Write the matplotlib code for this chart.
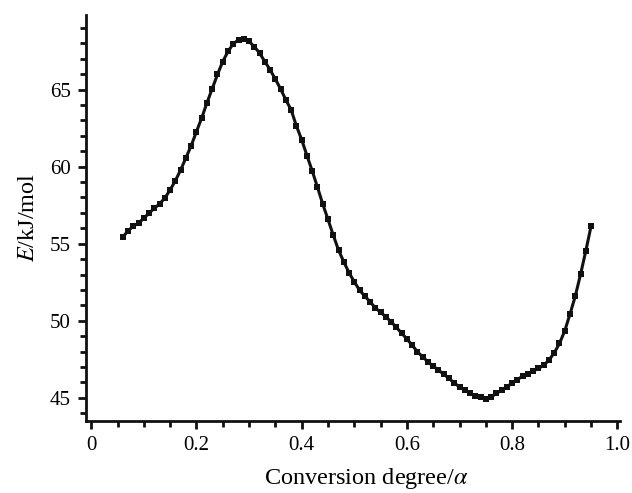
#!/usr/bin/env python3
"""Activation energy E versus conversion degree alpha."""

import numpy as np
import matplotlib
matplotlib.use("Agg")
import matplotlib.pyplot as plt
from matplotlib.ticker import MultipleLocator

# conversion degree (0.06 .. 0.95, step 0.01)
alpha = np.round(np.arange(6, 96) / 100.0, 2)

# activation energy, kJ/mol
energy = [
    55.43, 55.84, 56.13, 56.34, 56.65, 56.99, 57.30, 57.58, 57.97, 58.49,   # 0.06-0.15
    59.09, 59.79, 60.57, 61.36, 62.27, 63.16, 64.14, 65.06, 65.98, 66.82,   # 0.16-0.25
    67.47, 67.97, 68.23, 68.29, 68.12, 67.79, 67.36, 66.82, 66.28, 65.68,   # 0.26-0.35
    65.03, 64.33, 63.68, 62.64, 61.75, 60.72, 59.73, 58.67, 57.58, 56.58,   # 0.36-0.45
    55.56, 54.59, 53.83, 53.12, 52.53, 51.99, 51.60, 51.23, 50.84, 50.55,   # 0.46-0.55
    50.26, 49.94, 49.57, 49.20, 48.82, 48.42, 47.99, 47.66, 47.34, 47.06,   # 0.56-0.65
    46.80, 46.54, 46.26, 45.97, 45.71, 45.50, 45.29, 45.13, 45.03, 44.96,   # 0.66-0.75
    45.06, 45.29, 45.50, 45.71, 45.97, 46.19, 46.41, 46.58, 46.75, 46.91,   # 0.76-0.85
    47.12, 47.45, 47.92, 48.53, 49.35, 50.44, 51.60, 53.01, 54.53, 56.14,   # 0.86-0.95
]

x_ticks = [0, 0.2, 0.4, 0.6, 0.8, 1.0]
x_tick_labels = ["0", "0.2", "0.4", "0.6", "0.8", "1.0"]
y_ticks = [45, 50, 55, 60, 65]

plt.rcParams["font.family"] = ["Liberation Serif", "DejaVu Serif"]
plt.rcParams["mathtext.fontset"] = "stix"

fig = plt.figure(figsize=(6.32, 4.93), dpi=100)
ax = fig.add_axes([0.136, 0.146, 0.845, 0.824])

ax.plot(alpha, energy, color="#111111", linewidth=2.2,
        marker="s", markersize=4.2, markeredgewidth=0)

ax.set_xlim(-0.01, 1.005)
ax.set_ylim(43.5, 69.85)

ax.set_xticks(x_ticks)
ax.set_xticklabels(x_tick_labels)
ax.set_yticks(y_ticks)
ax.xaxis.set_minor_locator(MultipleLocator(0.05))
ax.yaxis.set_minor_locator(MultipleLocator(1))

ax.tick_params(which="major", direction="out", length=6, width=2,
               labelsize=15, color="#111111", pad=5)
ax.tick_params(which="minor", direction="out", length=4, width=2,
               color="#111111")

for side in ["top", "right"]:
    ax.spines[side].set_visible(False)
for side in ["left", "bottom"]:
    ax.spines[side].set_linewidth(2)
    ax.spines[side].set_color("#111111")

ax.set_xlabel(r"Conversion degree/$\alpha$", fontsize=17.5, labelpad=8, x=0.525)
ax.set_ylabel(r"$E$/kJ/mol", fontsize=17.5, labelpad=8)

fig.savefig("out.png", dpi=100)
